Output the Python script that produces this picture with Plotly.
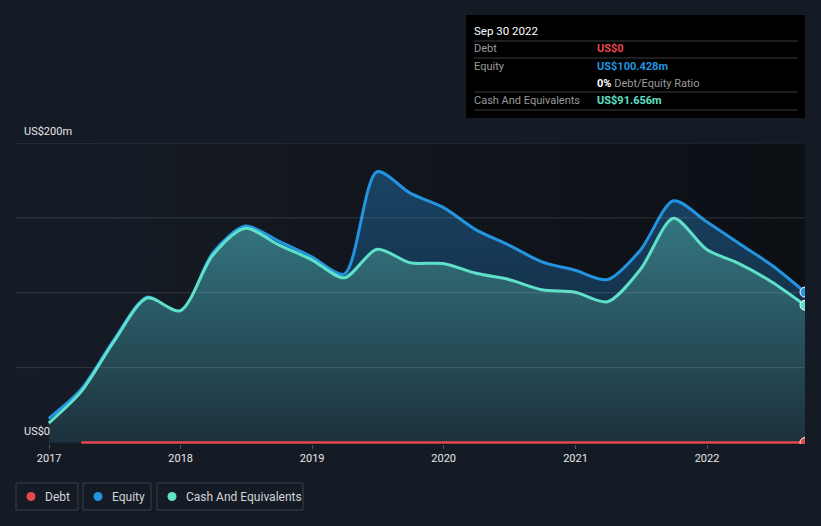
import plotly.graph_objects as go

# ---------------- data ----------------
dates = [
    "2016-12-31", "2017-03-31", "2017-06-30", "2017-09-30", "2017-12-31",
    "2018-03-31", "2018-06-30", "2018-09-30", "2018-12-31",
    "2019-03-31", "2019-06-30", "2019-09-30", "2019-12-31",
    "2020-03-31", "2020-06-30", "2020-09-30", "2020-12-31",
    "2021-03-31", "2021-06-30", "2021-09-30", "2021-12-31",
    "2022-03-31", "2022-06-30", "2022-09-30",
]
equity = [16.0, 35.5, 68.5, 97.0, 86.5, 126.5, 144.5, 134.5, 124.0,
          112.4, 180.8, 166.5, 157.0, 142.0, 131.8, 120.6, 115.0,
          108.8, 128.4, 161.4, 147.4, 132.9, 118.4, 100.428]
cash = [13.0, 34.0, 67.5, 96.5, 88.0, 125.0, 143.0, 132.0, 122.0,
        110.0, 129.0, 120.0, 119.5, 113.0, 108.8, 102.0, 100.3,
        94.0, 115.5, 149.8, 128.9, 119.5, 107.2, 91.656]
debt_dates = dates[1:]
debt = [0.0] * len(debt_dates)

x_range = ["2016-10-01", "2022-09-30"]
y_range = [-1, 200]
y_grid = [0, 50, 100, 150, 200]
x_ticks = ["2017-01-01", "2018-01-01", "2019-01-01", "2020-01-01", "2021-01-01", "2022-01-01"]
x_ticktext = ["2017", "2018", "2019", "2020", "2021", "2022"]

# ---------------- style ----------------
W, H = 821, 526
ML, MR, MT, MB = 16, 16, 143, 82
PW, PH = W - ML - MR, H - MT - MB
BG = "#151b25"
C_DEBT = "#e5484d"
C_EQ = "#2394df"
C_CASH = "#5fe0c9"
FONT = "Roboto"


def px(x):
    return (x - ML) / PW


def py(y):
    return (H - MB - y) / PH


fig = go.Figure()

# background gradient of plot area
fig.add_trace(go.Scatter(
    x=[x_range[0], x_range[1], x_range[1], x_range[0], x_range[0]],
    y=[y_range[0], y_range[0], y_range[1], y_range[1], y_range[0]],
    mode="lines", line=dict(width=0), fill="toself",
    fillgradient=dict(type="horizontal", colorscale=[[0, "#161c26"], [1, "#0c0f14"]]),
    hoverinfo="skip", showlegend=False,
))

fig.add_trace(go.Scatter(
    x=dates, y=equity, mode="lines", name="Equity",
    line=dict(color=C_EQ, width=3, shape="spline", smoothing=0.8),
    fill="tozeroy",
    fillgradient=dict(type="vertical", colorscale=[[0, "#0e2133"], [1, "#1a4364"]]),
    showlegend=False,
))
fig.add_trace(go.Scatter(
    x=dates, y=cash, mode="lines", name="Cash And Equivalents",
    line=dict(color=C_CASH, width=3, shape="spline", smoothing=0.8),
    fill="tozeroy",
    fillgradient=dict(type="vertical", colorscale=[[0, "#1c313d"], [1, "#347680"]]),
    showlegend=False,
))
fig.add_trace(go.Scatter(
    x=debt_dates, y=debt, mode="lines", name="Debt",
    line=dict(color=C_DEBT, width=2.5), showlegend=False,
))
# end markers
for xs, ys, c in [(debt_dates, debt, C_DEBT), (dates, equity, C_EQ), (dates, cash, C_CASH)]:
    fig.add_trace(go.Scatter(
        x=[xs[-1]], y=[ys[-1]], mode="markers",
        marker=dict(size=10, color=c, line=dict(color="#ffffff", width=1)),
        showlegend=False, hoverinfo="skip",
    ))

shapes = []
# gridlines above fills
for g in y_grid:
    shapes.append(dict(type="line", xref="paper", x0=0, x1=1, yref="y", y0=g, y1=g,
                       line=dict(color="rgba(200,205,215,0.18)" if g else "rgba(200,205,215,0.3)", width=1),
                       layer="above" if g else "below"))

# tooltip box
shapes.append(dict(type="rect", xref="paper", yref="paper", x0=px(466), x1=px(805),
                   y0=py(118), y1=py(15), fillcolor="#000000", line=dict(width=0), layer="above"))
for ly in [41, 58, 92, 110]:
    shapes.append(dict(type="line", xref="paper", yref="paper", x0=px(474), x1=px(798),
                       y0=py(ly), y1=py(ly), line=dict(color="#3d3d3d", width=1), layer="above"))

annotations = []


def txt(x, y, s, color, size=11, anchor="left"):
    annotations.append(dict(xref="paper", yref="paper", x=px(x), y=py(y), text=s,
                            showarrow=False, xanchor=anchor, yanchor="middle", xshift=-2,
                            font=dict(family=FONT, size=size, color=color)))


txt(474, 31, "Sep 30 2022", "#ffffff", 11.5)
txt(474, 49, "Debt", "#9a9a9a")
txt(474, 66, "Equity", "#9a9a9a")
txt(474, 100, "Cash And Equivalents", "#9a9a9a")
txt(597, 49, "<b>US$0</b>", C_DEBT)
txt(597, 66, "<b>US$100.428m</b>", C_EQ)
txt(597, 83, "<b><span style='color:#ffffff'>0%</span></b> Debt/Equity Ratio", "#9a9a9a")
txt(597, 100, "<b>US$91.656m</b>", C_CASH)

# y labels
txt(24, 131, "US$200m", "#e6e6e6")
txt(24, 431, "US$0", "#e6e6e6")

# legend boxes
legend_items = [("Debt", C_DEBT, 16, 78), ("Equity", C_EQ, 83, 151), ("Cash And Equivalents", C_CASH, 157, 303)]
for name, c, x0, x1 in legend_items:
    shapes.append(dict(type="rect", xref="paper", yref="paper", x0=px(x0), x1=px(x1),
                       y0=py(510), y1=py(483), line=dict(color="#3b404a", width=1),
                       fillcolor="rgba(0,0,0,0)"))
    shapes.append(dict(type="circle", xref="paper", yref="paper", xsizemode="pixel", ysizemode="pixel",
                       xanchor=px(x0 + 15), yanchor=py(496.5), x0=-4.5, x1=4.5, y0=-4.5, y1=4.5,
                       fillcolor=c, line=dict(width=0)))
    txt(x0 + 29, 496.5, name, "#d2d4d8", 12)

fig.update_layout(
    width=W, height=H, autosize=False,
    margin=dict(l=ML, r=MR, t=MT, b=MB, pad=0),
    paper_bgcolor=BG, plot_bgcolor=BG,
    font=dict(family=FONT, size=11, color="#e6e6e6"),
    showlegend=False,
    shapes=shapes, annotations=annotations,
    hovermode=False,
)
fig.update_xaxes(range=x_range, type="date", showgrid=False, zeroline=False,
                 tickvals=x_ticks, ticktext=x_ticktext, ticks="outside", ticklen=4,
                 tickcolor="#4a4f58", tickfont=dict(family=FONT, size=11, color="#e6e6e6"),
                 showline=False, fixedrange=True)
fig.update_yaxes(range=y_range, showgrid=False, zeroline=False, showticklabels=False,
                 ticks="", showline=False, fixedrange=True)

fig.write_html("out.html", config={"displayModeBar": False},
               post_script="document.body.style.margin='0';")
